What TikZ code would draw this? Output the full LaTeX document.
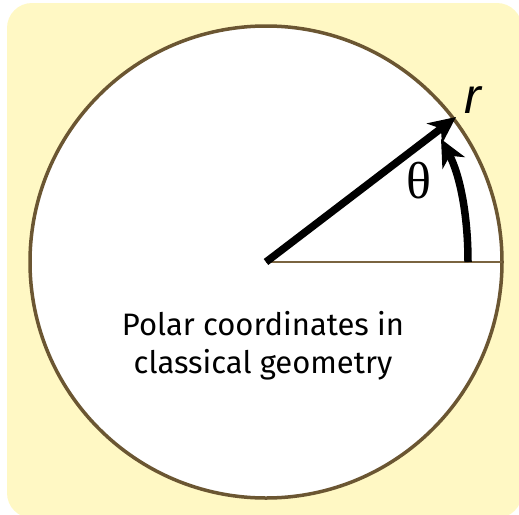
\documentclass[tikz,border=0pt]{standalone}
\usepackage{fontspec}
\setmainfont{Liberation Serif}
\newfontfamily\labfont{Fira Sans}
\newfontfamily\rfont{Liberation Sans}
\usetikzlibrary{arrows.meta}
\definecolor{bgyellow}{HTML}{FFF8C4}
\definecolor{rimbrown}{HTML}{6B5632}
\definecolor{axisbrown}{HTML}{7A6440}
\tikzset{
  rim/.style={draw=rimbrown, line width=3.5pt, fill=white},
  axisline/.style={draw=axisbrown, line width=2.2pt},
  bigarrow/.style={draw=black, line width=7.5pt, -{Stealth[length=27pt,width=25pt,inset=8pt]}},
  caption/.style={font=\labfont\fontsize{31}{38}\selectfont, align=center, inner sep=0pt},
}
\begin{document}
\begin{tikzpicture}[x=1pt,y=-1pt]
\useasboundingbox (0,0) rectangle (519,514);
\begin{scope}
\clip (0,0) rectangle (519,514);
\fill[bgyellow, rounded corners=25pt] (7,3) rectangle (522,518);
\end{scope}
\coordinate (O) at (266,262);
\draw[rim] (O) circle[radius=236];
\coordinate (E) at (502,262);
\draw[axisline] (O) -- (E);
\coordinate (R) at (456,117);
\draw[bigarrow] (O) -- (R);
\coordinate (A0) at (468,262);
\coordinate (A1) at (441,139);
\draw[bigarrow] (A0) .. controls (468,215) and (460,175) .. (A1);
\node[font=\fontsize{52}{52}\selectfont, inner sep=0pt] (theta) at (419,181) {θ};
\node[font=\rfont\itshape\fontsize{50}{50}\selectfont, inner sep=0pt] (r) at (473,100) {r};
\node[caption] (txt) at (263,346) {Polar coordinates in\\classical geometry};
\end{tikzpicture}
\end{document}
